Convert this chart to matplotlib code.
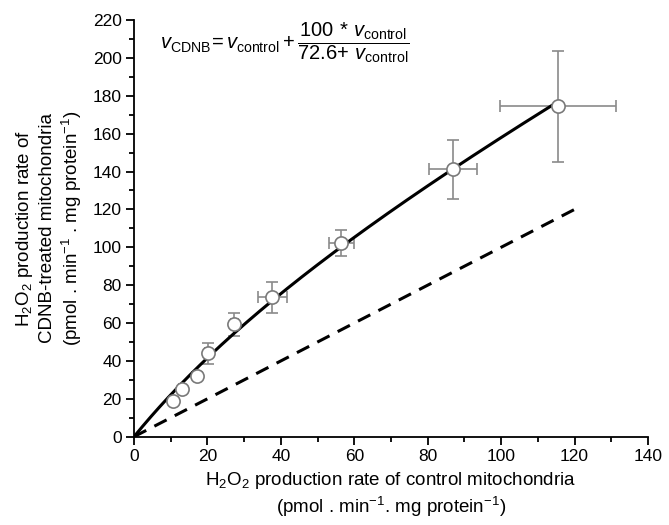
import matplotlib
matplotlib.use('Agg')
import matplotlib.pyplot as plt
import numpy as np

plt.rcParams['font.family'] = ['Liberation Sans', 'DejaVu Sans']
plt.rcParams['mathtext.fontset'] = 'custom'
plt.rcParams['mathtext.rm'] = 'Liberation Sans'
plt.rcParams['mathtext.it'] = 'Liberation Sans:italic'
plt.rcParams['mathtext.bf'] = 'Liberation Sans:bold'

# measured points: control rate vs CDNB-treated rate
v_control = [10.5, 13.0, 17.1, 20.2, 27.3, 37.7, 56.4, 86.8, 115.4]
v_cdnb = [19.0, 25.0, 32.2, 44.0, 59.3, 73.6, 102.3, 141.3, 174.4]
x_err = [0.8, 0.8, 0.8, 0.8, 1.0, 3.9, 3.4, 6.5, 15.8]
y_err = [1.8, 1.5, 1.8, 5.7, 6.2, 8.3, 6.9, 15.6, 29.3]

# fitted model constants (from the equation shown on the chart)
v_add = 100.0
k_half = 72.6
fit_max = 115.4
identity_max = 120.0

fig = plt.figure(figsize=(6.69, 5.25), dpi=100)
ax = fig.add_axes([0.2003, 0.1682, 0.7683, 0.7937])

xs = np.linspace(0, fit_max, 200)
ax.plot(xs, xs + v_add * xs / (k_half + xs), color='black', lw=2.2, zorder=3)
ax.plot([0, identity_max], [0, identity_max], color='black', lw=2.2,
        dashes=(4.5, 3), zorder=3)

ax.errorbar(v_control, v_cdnb, xerr=x_err, yerr=y_err, fmt='none',
            ecolor='#8a8a8a', elinewidth=1.2, capsize=4, capthick=1.2, zorder=2)
ax.plot(v_control, v_cdnb, 'o', ms=9.5, mfc='white', mec='#7a7a7a', mew=1.2,
        zorder=4)

ax.set_xlim(0, 140)
ax.set_ylim(0, 220)
ax.set_xticks(np.arange(0, 141, 20))
ax.set_yticks(np.arange(0, 221, 20))
ax.set_xticks(np.arange(10, 140, 20), minor=True)
ax.set_yticks(np.arange(10, 220, 20), minor=True)
ax.spines['top'].set_visible(False)
ax.spines['right'].set_visible(False)
for s in ('left', 'bottom'):
    ax.spines[s].set_linewidth(1.3)
ax.tick_params(which='major', direction='out', length=6, width=1.3,
               labelsize=12.5, pad=3)
ax.tick_params(which='minor', direction='out', length=3.5, width=1.3)

ax.set_xlabel('H$_2$O$_2$ production rate of control mitochondria\n'
              '(pmol . min$^{-1}$. mg protein$^{-1}$)',
              fontsize=13.5, labelpad=4, linespacing=1.25)
ax.set_ylabel('H$_2$O$_2$ production rate of\n'
              'CDNB-treated mitochondria\n'
              '(pmol . min$^{-1}$ . mg protein$^{-1}$)',
              fontsize=13.5, labelpad=6, linespacing=1.25)

ax.text(7, 208,
        r'$v_{\mathrm{CDNB}}\!=v_{\mathrm{control}}+\dfrac{100\,*\,v_{\mathrm{control}}}'
        r'{72.6\!+\,v_{\mathrm{control}}}$',
        fontsize=14.5, va='center', ha='left')

fig.savefig('out.png', dpi=100)
